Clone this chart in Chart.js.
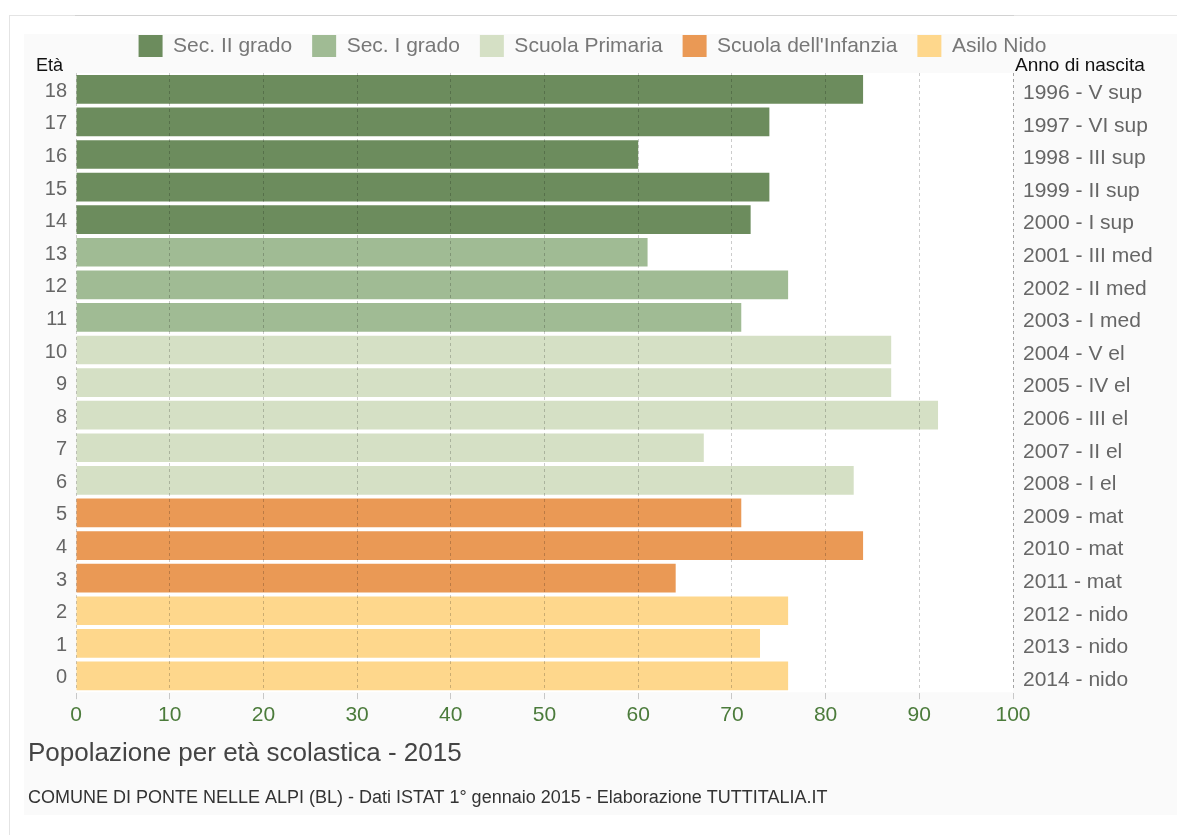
<!DOCTYPE html>
<html>
<head>
<meta charset="utf-8">
<title>Popolazione per età scolastica - 2015</title>
<script src="https://cdn.jsdelivr.net/npm/chart.js@4.4.1/dist/chart.umd.min.js"></script>
<style>
  html, body { margin: 0; padding: 0; background: #fff; overflow: hidden; }
  #frame { position: absolute; left: 9px; top: 15px; width: 1200px; height: 900px; border: 1px solid #e4e4e4; }
  #shade { position: absolute; left: 24px; top: 34px; width: 1160px; height: 781px; background: #fafafa; }
  #myChart { position: absolute; left: 28px; top: 15px; }
</style>
</head>
<body>
<div id="frame"></div>
<div id="shade"></div>
<canvas id="myChart" width="1149" height="820"></canvas>
<script>
// età (dall'alto verso il basso)
const ages = ["18", "17", "16", "15", "14", "13", "12", "11", "10", "9", "8", "7", "6", "5", "4", "3", "2", "1", "0"];

const birthLabels = [
  "1996 - V sup", "1997 - VI sup", "1998 - III sup", "1999 - II sup", "2000 - I sup",
  "2001 - III med", "2002 - II med", "2003 - I med",
  "2004 - V el", "2005 - IV el", "2006 - III el", "2007 - II el", "2008 - I el",
  "2009 - mat", "2010 - mat", "2011 - mat",
  "2012 - nido", "2013 - nido", "2014 - nido",
];

const population = [84, 74, 60, 74, 72, 61, 76, 71, 87, 87, 92, 67, 83, 71, 84, 64, 76, 73, 76];

const levels = ["Sec. II grado", "Sec. I grado", "Scuola Primaria", "Scuola dell'Infanzia", "Asilo Nido"];

// indice del livello scolastico per ogni età
const levelOfAge = [0, 0, 0, 0, 0, 1, 1, 1, 2, 2, 2, 2, 2, 3, 3, 3, 4, 4, 4];

const xTicks = [0, 10, 20, 30, 40, 50, 60, 70, 80, 90, 100];

const levelColors = ["#6c8c5d", "#a0bb94", "#d5e0c5", "#ea9955", "#fed78c"];

Chart.defaults.font.family = '"Liberation Sans", Arial, sans-serif';

const datasets = levels.map((label, k) => ({
  label: label,
  data: population.map((v, i) => (levelOfAge[i] === k ? v : null)),
  backgroundColor: levelColors[k],
  borderWidth: 0,
  categoryPercentage: 1,
  barPercentage: 0.88,
}));

// sfondo bianco dell'area del grafico + intestazioni degli assi
const extras = {
  id: "extras",
  beforeDraw(chart) {
    const { ctx, chartArea } = chart;
    ctx.save();
    ctx.fillStyle = "#ffffff";
    ctx.fillRect(chartArea.left, chartArea.top, chartArea.right - chartArea.left, chartArea.bottom - chartArea.top);
    ctx.restore();
  },
  afterDraw(chart) {
    const { ctx, chartArea } = chart;
    ctx.save();
    ctx.fillStyle = "#111";
    ctx.textBaseline = "alphabetic";
    ctx.font = '18px "Liberation Sans", Arial, sans-serif';
    ctx.textAlign = "right";
    ctx.fillText("Età", chartArea.left - 13, chartArea.top - 2);
    ctx.font = '19px "Liberation Sans", Arial, sans-serif';
    ctx.textAlign = "left";
    ctx.fillText("Anno di nascita", chartArea.right + 2, chartArea.top - 2);
    ctx.restore();
  },
};

const ctx = document.getElementById("myChart");

new Chart(ctx, {
  type: "bar",
  data: {
    labels: ages,
    datasets: datasets,
  },
  plugins: [extras],
  options: {
    indexAxis: "y",
    responsive: false,
    animation: false,
    layout: { padding: { left: 0, right: 20, top: 0, bottom: 0 } },
    scales: {
      x: {
        type: "linear",
        stacked: true,
        min: 0,
        max: 100,
        afterBuildTicks: (scale) => {
          scale.ticks = xTicks.map((v) => ({ value: v }));
        },
        afterFit: (scale) => {
          scale.height = 35;
        },
        grid: {
          z: 1,
          color: (c) => (c.tick && c.tick.value === 100 ? "rgba(0,0,0,0.35)" : "rgba(0,0,0,0.2)"),
          tickColor: "#c8c8c8",
          tickLength: 7,
          tickBorderDash: [],
        },
        border: { display: true, color: "#d2d2d2", width: 2, dash: [3, 3] },
        ticks: {
          color: "#4b7b3b",
          font: { size: 21 },
          padding: 3,
        },
      },
      xTop: {
        type: "linear",
        position: "top",
        display: true,
        grid: { display: false },
        border: { display: false },
        ticks: { display: false },
        afterFit: (scale) => {
          scale.height = 6;
        },
      },
      y: {
        stacked: true,
        position: "left",
        grid: { display: false, drawTicks: false },
        border: { display: false },
        ticks: { color: "#666", font: { size: 20 }, padding: 9, labelOffset: 2 },
        afterFit: (scale) => {
          scale.width = 48;
        },
      },
      y2: {
        type: "category",
        labels: birthLabels,
        position: "right",
        offset: true,
        grid: { display: false, drawTicks: false },
        border: { display: false },
        ticks: { color: "#666", font: { size: 21 }, padding: 10, labelOffset: 4 },
        afterFit: (scale) => {
          scale.width = 144;
        },
      },
    },
    plugins: {
      legend: {
        position: "top",
        labels: {
          boxWidth: 24,
          boxHeight: 22,
          padding: 20,
          color: "#777",
          font: { size: 21 },
        },
      },
      tooltip: { enabled: false },
      title: {
        display: true,
        text: "Popolazione per età scolastica - 2015",
        position: "bottom",
        align: "start",
        weight: 1400,
        color: "#444",
        font: { size: 26, weight: "normal" },
        padding: { top: 11, bottom: 0 },
      },
      subtitle: {
        display: true,
        text: "COMUNE DI PONTE NELLE ALPI (BL) - Dati ISTAT 1° gennaio 2015 - Elaborazione TUTTITALIA.IT",
        position: "bottom",
        align: "start",
        color: "#333",
        font: { size: 18, weight: "normal" },
        padding: { top: 18, bottom: 26 },
      },
    },
  },
});
</script>
</body>
</html>
